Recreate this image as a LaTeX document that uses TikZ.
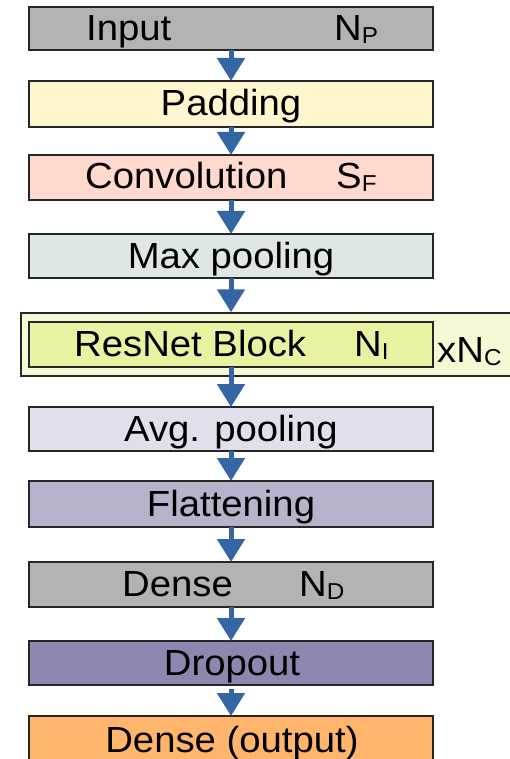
\documentclass[tikz,border=0pt]{standalone}
\usepackage{fontspec}
\setmainfont{Liberation Sans}[FakeStretch=1.055]
\usetikzlibrary{arrows.meta}
\definecolor{arrowblue}{HTML}{3465A4}
\definecolor{cinput}{HTML}{B3B3B3}
\definecolor{cpad}{HTML}{FFF5CE}
\definecolor{cconv}{HTML}{FFD8CE}
\definecolor{cmax}{HTML}{DEE7E5}
\definecolor{cresin}{HTML}{E8F2A1}
\definecolor{cresout}{HTML}{F6F9D4}
\definecolor{cavg}{HTML}{E0DFEC}
\definecolor{cflat}{HTML}{B7B3CA}
\definecolor{cdense}{HTML}{B3B3B3}
\definecolor{cdrop}{HTML}{8E86AE}
\definecolor{cout}{HTML}{FFB66C}
\newcommand{\sbs}[1]{\raisebox{-3pt}{\fontsize{23}{26}\selectfont #1}}
\begin{document}
\begin{tikzpicture}[x=1pt,y=-1pt,
  layer/.style={draw=black!85, line width=1.6pt, minimum width=404pt, inner sep=0pt, outer sep=0pt},
  lbl/.style={anchor=base, inner sep=0pt, font=\fontsize{36.3}{40}\selectfont},
  lblw/.style={anchor=base west, inner sep=0pt, font=\fontsize{36.3}{40}\selectfont},
  arr/.style={draw=arrowblue, line width=5pt, -{Triangle[width=27pt,length=23pt]}}]
\useasboundingbox (0,0) rectangle (510,759);
\clip (0,0) rectangle (510,759);
% boxes
\node[layer, fill=cinput, minimum height=43pt] (input) at (231,28.5) {};
\node[layer, fill=cpad, minimum height=46pt] (pad) at (231,104) {};
\node[layer, fill=cconv, minimum height=45pt] (conv) at (231,177.5) {};
\node[layer, fill=cmax, minimum height=44pt] (maxp) at (231,256) {};
\node[draw=black!85, line width=1.4pt, fill=cresout, minimum width=499pt, minimum height=63pt, inner sep=0pt] (resout) at (270.5,344.5) {};
\node[layer, fill=cresin, minimum height=45pt] (resin) at (231,344.5) {};
\node[layer, fill=cavg, minimum height=44pt] (avgp) at (231,429) {};
\node[layer, fill=cflat, minimum height=46pt] (flat) at (231,504) {};
\node[layer, fill=cdense, minimum height=45pt] (dense) at (231,584.5) {};
\node[layer, fill=cdrop, minimum height=44pt] (drop) at (231,663) {};
\node[layer, fill=cout, minimum height=54pt] (outp) at (231,743) {};
% labels
\node[lblw] (tinput) at (86,41) {Input};
\node[lblw] (tnp) at (334,41) {N\sbs{P}};
\node[lbl] (tpad) at (231,116) {Padding};
\node[lblw] (tconv) at (85,189) {Convolution};
\node[lblw] (tsf) at (336,189) {S\sbs{F}};
\node[lbl] (tmax) at (231,268) {Max pooling};
\node[lblw] (tres) at (74,356) {ResNet Block};
\node[lblw] (tni) at (354,356) {N\sbs{I}};
\node[lblw] (tnc) at (437,362) {xN\sbs{C}};
\node[lbl] (tavg) at (231,441) {Avg. pooling};
\node[lbl] (tflat) at (231,516) {Flattening};
\node[lblw] (tdense) at (122,596) {Dense};
\node[lblw] (tnd) at (299,596) {N\sbs{D}};
\node[lbl] (tdrop) at (232,675) {Dropout};
\node[lbl] (tout) at (232,752) {Dense (output)};
% arrows
\draw[arr] (input.south) -- (pad.north);
\draw[arr] (pad.south) -- (conv.north);
\draw[arr] (conv.south) -- (maxp.north);
\draw[arr] (maxp.south) -- (maxp.south |- resout.north);
\draw[arr] (resin.south) -- (avgp.north);
\draw[arr] (avgp.south) -- (flat.north);
\draw[arr] (flat.south) -- (dense.north);
\draw[arr] (dense.south) -- (drop.north);
\draw[arr] ([yshift=-4pt]drop.south) -- (outp.north);
\end{tikzpicture}
\end{document}
